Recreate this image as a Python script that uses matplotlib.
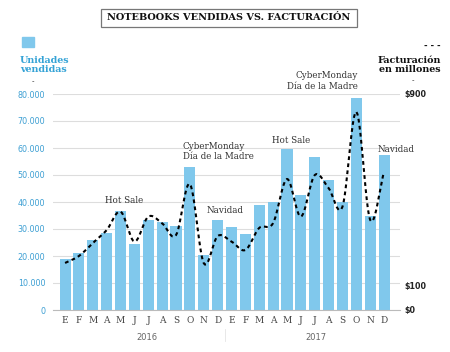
import numpy as np
import matplotlib
matplotlib.use("Agg")
import matplotlib.pyplot as plt
from matplotlib.patches import Rectangle

months = ["E", "F", "M", "A", "M", "J", "J", "A", "S", "O", "N", "D"] * 2
years = ["2016", "2017"]
unidades = [18800, 21100, 25800, 28500, 36700, 24600, 33200, 32600, 31000, 52800, 20400, 33200,
            30700, 28300, 39000, 39900, 59700, 42600, 56800, 48100, 40100, 78400, 34800, 57300]
facturacion = [196, 225, 279, 333, 410, 285, 389, 361, 312, 525, 195, 308,
               285, 250, 342, 362, 546, 389, 562, 508, 430, 826, 375, 576]
left_ticks = [0, 10000, 20000, 30000, 40000, 50000, 60000, 70000, 80000]
right_ticks = [0, 100, 900]
right_labels = ["$0", "$100", "$900"]
eventos = ["Hot Sale", "CyberMonday\nDía de la Madre", "Navidad",
           "Hot Sale", "CyberMonday\nDía de la Madre", "Navidad"]

BLUE = "#80c8ec"
TICKBLUE = "#3d9fd3"
SERIF = ["DejaVu Serif"]

W, H = 450, 352
fig = plt.figure(figsize=(W / 100, H / 100), dpi=100)
fig.patch.set_facecolor("white")

def fx(px):
    return px / W

def fy(py):
    return 1 - py / H

ax = fig.add_axes([fx(53), fy(310), fx(400) - fx(53), fy(94) - fy(310)])
x = np.arange(len(unidades))
ax.bar(x, unidades, width=0.8, color=BLUE, zorder=2)
ax.set_xlim(-0.87, 24.15)
ax.set_ylim(0, 80000)
ax.set_yticks(left_ticks)
ax.set_yticklabels([f"{v:,}".replace(",", ".") for v in left_ticks],
                   color=TICKBLUE, fontsize=5.8, family="DejaVu Sans")
ax.tick_params(axis="y", length=0, pad=5.5)
ax.set_xticks(x)
ax.set_xticklabels(months, family=SERIF, fontsize=6.5, color="#444444")
ax.tick_params(axis="x", length=0, pad=4)
ax.grid(axis="y", color="#dddddd", linewidth=0.8, zorder=0)
for s in ["top", "right", "left"]:
    ax.spines[s].set_visible(False)
ax.spines["bottom"].set_color("#bbbbbb")
ax.spines["bottom"].set_linewidth(0.8)
ax.set_axisbelow(True)

ax2 = ax.twinx()
ax2.set_ylim(0, 900)
ax2.set_yticks(right_ticks)
ax2.set_yticklabels(right_labels, fontsize=5.8, fontweight="bold", color="#222222",
                    family="DejaVu Sans")
ax2.tick_params(axis="y", length=0, pad=3)
for s in ["top", "right", "left", "bottom"]:
    ax2.spines[s].set_visible(False)

# smooth (Catmull-Rom) rendering of the facturación line through its data points
xs = np.arange(len(facturacion), dtype=float)
ys = np.array(facturacion, dtype=float)
px = np.concatenate([[2 * xs[0] - xs[1]], xs, [2 * xs[-1] - xs[-2]]])
py = np.concatenate([[2 * ys[0] - ys[1]], ys, [2 * ys[-1] - ys[-2]]])
cx, cy = [], []
t = np.linspace(0, 1, 12, endpoint=False)
for i in range(1, len(px) - 2):
    for arr, out in ((px, cx), (py, cy)):
        p0, p1, p2, p3 = arr[i - 1], arr[i], arr[i + 1], arr[i + 2]
        out.extend(0.5 * ((2 * p1) + (-p0 + p2) * t + (2 * p0 - 5 * p1 + 4 * p2 - p3) * t ** 2
                          + (-p0 + 3 * p1 - 3 * p2 + p3) * t ** 3))
cx.append(xs[-1]); cy.append(ys[-1])
ax2.plot(cx, cy, color="black", linewidth=1.5, linestyle=(0, (1.8, 1.6)), zorder=3)

# event annotations
ann_pos = [(4.25, 40700, "center"), (8.5, 58700, "left"), (10.24, 37000, "left"),
           (16.3, 62600, "center"), (21.1, 84800, "right"), (22.57, 59600, "left")]
for txt, (xx, yy, ha) in zip(eventos, ann_pos):
    ax.text(xx, yy, txt, ha=ha, va="center", family=SERIF, fontsize=6.3,
            color="#333333", linespacing=1.25, clip_on=False, zorder=5)

# title box
fig.text(fx(229), fy(18), "NOTEBOOKS VENDIDAS VS. FACTURACIÓN", ha="center", va="center",
         family=SERIF, fontweight="bold", fontsize=7, color="#111111")
fig.patches.append(Rectangle((fx(101), fy(27)), fx(357) - fx(101), fy(9) - fy(27),
                             transform=fig.transFigure, fill=False,
                             edgecolor="#777777", linewidth=0.9))

# left legend
fig.patches.append(Rectangle((fx(22), fy(47)), fx(12), fy(37) - fy(47),
                             transform=fig.transFigure, color=BLUE))
fig.text(fx(20), fy(65), "Unidades\nvendidas", ha="left", va="center", family=SERIF,
         fontweight="bold", fontsize=6.8, color="#35a3d6", linespacing=1.1)
fig.text(fx(33), fy(81), "-", ha="center", va="center", fontsize=5, color="#222222")

# right legend
fig.text(fx(441), fy(45), "- - -", ha="right", va="center", fontsize=6,
         fontweight="bold", color="#111111")
fig.text(fx(441), fy(65), "Facturación\nen millones", ha="right", va="center", family=SERIF,
         fontweight="bold", fontsize=6.8, color="#111111", linespacing=1.1)
fig.text(fx(413), fy(80), "-", ha="center", va="center", fontsize=5, color="#222222")

# years
fig.text(fx(147), fy(338), years[0], ha="center", va="center", fontsize=6,
         color="#666666", family="DejaVu Sans")
fig.text(fx(316), fy(338), years[1], ha="center", va="center", fontsize=6,
         color="#666666", family="DejaVu Sans")
fig.lines.append(plt.Line2D([fx(225), fx(225)], [fy(329), fy(341)],
                            transform=fig.transFigure, color="#e4e4e4", linewidth=0.6))

fig.savefig("out.png", dpi=100, facecolor="white")
